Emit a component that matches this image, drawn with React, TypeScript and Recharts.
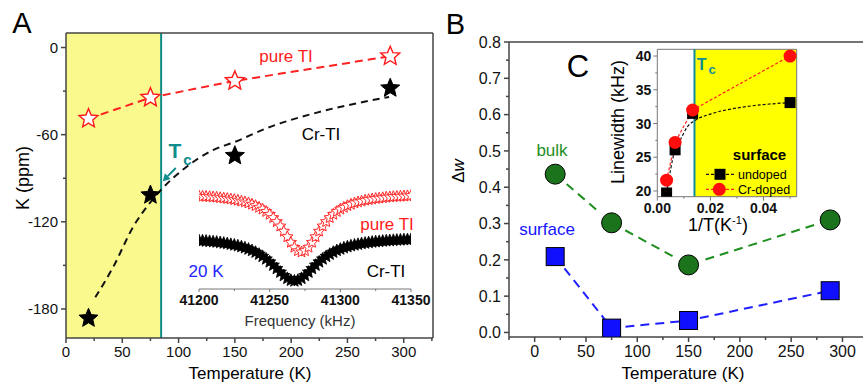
import React from 'react';
import { ComposedChart, XAxis, YAxis, Line, Scatter, ReferenceArea, ReferenceLine } from 'recharts';

// ---------- Panel A : Knight shift vs temperature ----------
const tempsA = [20, 75, 150, 288];
const kPureTI = [-49, -34.5, -23, -6];
const kCrTI = [-186.4, -101.6, -74.5, -28];
const crFitTemps = [26, 42, 60, 74.5, 85, 104, 131, 150, 178, 222, 267, 287];
const crFitK = [-172, -151, -123, -107, -97.5, -84, -70.5, -65, -55.6, -45, -37, -34];
const tcA = 84.5;
const kTicks = [0, -60, -120, -180];
const kMinorTicks = [-30, -90, -150];
const tempTicksA = [0, 50, 100, 150, 200, 250, 300];
const tempMinorTicksA = [25, 75, 125, 175, 225, 275, 325];
const tcArrowFrom = { x: 97.5, y: -83 };
const tcArrowTo = { x: 86, y: -92 };

// ---------- Inset of A : 20 K spectra ----------
const freqs = [41200, 41202.5, 41205, 41207.5, 41210, 41212.5, 41215, 41217.5, 41220, 41222.5, 41225, 41227.5, 41230, 41232.5, 41235, 41237.5, 41240, 41242.5, 41245, 41247.5, 41250, 41252.5, 41255, 41257.5, 41260, 41262.5, 41265, 41267.5, 41270, 41272.5, 41275, 41277.5, 41280, 41282.5, 41285, 41287.5, 41290, 41292.5, 41295, 41297.5, 41300, 41302.5, 41305, 41307.5, 41310, 41312.5, 41315, 41317.5, 41320, 41322.5, 41325, 41327.5, 41330, 41332.5, 41335, 41337.5, 41340, 41342.5, 41345, 41347.5, 41350];
const specPureTI = [92.9, 92.7, 92.5, 92.3, 92.0, 91.7, 91.2, 90.8, 90.4, 89.9, 89.3, 88.7, 87.8, 87.0, 86.0, 84.7, 83.3, 81.6, 79.8, 77.4, 74.6, 71.3, 67.3, 62.9, 57.7, 52.2, 46.6, 41.7, 38.2, 37.0, 38.2, 41.7, 46.6, 52.2, 57.7, 62.9, 67.3, 71.3, 74.6, 77.4, 79.8, 81.6, 83.3, 84.7, 86.0, 87.0, 87.8, 88.7, 89.3, 89.9, 90.4, 90.8, 91.2, 91.7, 92.0, 92.3, 92.5, 92.7, 92.9, 93.1, 93.3];
const specCrTI = [48.4, 48.2, 47.9, 47.6, 47.3, 46.9, 46.4, 45.9, 45.4, 44.7, 44.0, 43.2, 42.3, 41.2, 39.9, 38.5, 36.8, 34.8, 32.6, 30.0, 27.1, 23.8, 20.4, 16.8, 13.4, 10.6, 8.7, 8.0, 8.7, 10.6, 13.4, 16.8, 20.4, 23.8, 27.1, 30.0, 32.6, 34.8, 36.8, 38.5, 39.9, 41.2, 42.3, 43.2, 44.0, 44.7, 45.4, 45.9, 46.4, 46.9, 47.3, 47.6, 47.9, 48.2, 48.4, 48.7, 48.9, 49.1, 49.3, 49.4, 49.6];
const freqTicks = [41200, 41250, 41300, 41350];
const freqMinorTicks = [41225, 41275, 41325];

// ---------- Panel B : delta w vs temperature ----------
const tempsB = [20, 75, 150, 288];
const dwBulk = [0.436, 0.302, 0.186, 0.31];
const dwSurface = [0.209, 0.012, 0.033, 0.115];
const dwTicks = [0, 0.1, 0.2, 0.3, 0.4, 0.5, 0.6, 0.7, 0.8];
const dwMinorTicks = [0.05, 0.15, 0.25, 0.35, 0.45, 0.55, 0.65, 0.75];
const tempTicksB = [0, 50, 100, 150, 200, 250, 300];
const tempMinorTicksB = [-25, 25, 75, 125, 175, 225, 275];

// ---------- Inset C : linewidth vs 1/T ----------
const invT = [0.0035, 0.0067, 0.0133, 0.05];
const lwUndoped = [19.7, 26.1, 31.5, 33.1];
const lwCrDoped = [21.6, 27.2, 32.0, 40.0];
const undopedFitInvT = [0.0035, 0.0067, 0.0087, 0.0113, 0.014, 0.02, 0.03, 0.04, 0.05];
const undopedFitLw = [19.7, 26.1, 27.6, 29.5, 30.4, 31.4, 32.3, 32.8, 33.1];
const tcInvT = 0.014;
const lwTicks = [20, 25, 30, 35, 40];
const lwMinorTicks = [22.5, 27.5, 32.5, 37.5];
const invTTicks = [0, 0.02, 0.04];
const invTMinorTicks = [0.01, 0.03, 0.05];

const zip = (xs: number[], ys: number[]) => xs.map((x, i) => ({ x, y: ys[i] }));

const FONT = '"Liberation Sans", Arial, Helvetica, sans-serif';
const AXIS = '#444';
const TEAL = '#0f8c8c';

function starPath(cx: number, cy: number, R: number, r: number) {
  let d = '';
  for (let i = 0; i < 10; i++) {
    const rad = i % 2 === 0 ? R : r;
    const a = -Math.PI / 2 + (i * Math.PI) / 5;
    d += (i ? 'L' : 'M') + (cx + rad * Math.cos(a)).toFixed(2) + ',' + (cy + rad * Math.sin(a)).toFixed(2);
  }
  return d + 'Z';
}

const starShape = (R: number, ratio: number, fill: string, stroke: string, sw: number) => (p: any) =>
  <path d={starPath(p.cx, p.cy, R, R * ratio)} fill={fill} stroke={stroke} strokeWidth={sw} strokeLinejoin="miter" />;

const arrowShape = (color: string) => (p: any) => {
  const { x1, y1, x2, y2 } = p;
  const ang = Math.atan2(y2 - y1, x2 - x1);
  const L = 7, Wd = 4;
  const bx = x2 - L * Math.cos(ang), by = y2 - L * Math.sin(ang);
  const px = -Math.sin(ang) * Wd, py = Math.cos(ang) * Wd;
  return (
    <g>
      <line x1={x1} y1={y1} x2={bx} y2={by} stroke={color} strokeWidth={2} />
      <polygon points={`${x2},${y2} ${bx + px},${by + py} ${bx - px},${by - py}`} fill={color} />
    </g>
  );
};

type TickOpts = { majors: number[]; fmt?: (v: number) => string; size: number; bold?: boolean; major: number; minor: number; stroke: string; sw: number; gap: number };

const xTick = (o: TickOpts) => (props: any) => {
  const { x, y, payload } = props;
  const v = payload.value;
  const isMajor = o.majors.some((m) => Math.abs(m - v) < 1e-9);
  const len = isMajor ? o.major : o.minor;
  return (
    <g>
      <line x1={x} y1={y} x2={x} y2={y + len} stroke={o.stroke} strokeWidth={o.sw} />
      {isMajor && (
        <text x={x} y={y + o.major + o.gap} dy="0.75em" textAnchor="middle" fontSize={o.size} fill="#111" fontWeight={o.bold ? 'bold' : 'normal'}>
          {o.fmt ? o.fmt(v) : String(v)}
        </text>
      )}
    </g>
  );
};

const yTick = (o: TickOpts) => (props: any) => {
  const { x, y, payload } = props;
  const v = payload.value;
  const isMajor = o.majors.some((m) => Math.abs(m - v) < 1e-9);
  const len = isMajor ? o.major : o.minor;
  return (
    <g>
      <line x1={x} y1={y} x2={x - len} y2={y} stroke={o.stroke} strokeWidth={o.sw} />
      {isMajor && (
        <text x={x - o.major - o.gap} y={y} dy="0.36em" textAnchor="end" fontSize={o.size} fill="#111" fontWeight={o.bold ? 'bold' : 'normal'}>
          {o.fmt ? o.fmt(v) : String(v)}
        </text>
      )}
    </g>
  );
};

const Txt = (props: any) => {
  const { x, y, size, color = '#000', bold, rotate = 0, left, children } = props;
  return (
    <div style={{
      position: 'absolute', left: x, top: y, fontSize: size, color, lineHeight: 1, whiteSpace: 'nowrap',
      fontWeight: bold ? 'bold' : 'normal',
      transform: `translate(${left ? '0' : '-50%'},-50%) rotate(${rotate}deg)`,
    }}>{children}</div>
  );
};

function PanelA() {
  return (
    <div style={{ position: 'absolute', left: 0, top: 0 }}>
      <ComposedChart width={440} height={383} margin={{ top: 33, right: 7, bottom: 15, left: 6 }}>
        <XAxis type="number" dataKey="x" domain={[0, 326]} ticks={[...tempTicksA, ...tempMinorTicksA]} interval={0} height={30}
          tickSize={0} tickMargin={0} tickLine={false} stroke={AXIS} strokeWidth={1.5} allowDataOverflow
          tick={xTick({ majors: tempTicksA, size: 15, major: 5, minor: 3, stroke: AXIS, sw: 1.5, gap: 3 })} />
        <YAxis type="number" dataKey="y" domain={[-200, 10]} ticks={[...kTicks, ...kMinorTicks]} interval={0} width={60}
          tickSize={0} tickMargin={0} tickLine={false} stroke={AXIS} strokeWidth={1.5} allowDataOverflow
          tick={yTick({ majors: kTicks, size: 15, major: 5, minor: 3, stroke: AXIS, sw: 1.5, gap: 3 })} />
        <ReferenceArea x1={0} x2={tcA} fill="#f9f98e" fillOpacity={1} stroke="none" />
        <ReferenceLine x={tcA} stroke={TEAL} strokeWidth={2} />
        <ReferenceLine y={10} stroke={AXIS} strokeWidth={1.5} />
        <ReferenceLine x={326} stroke={AXIS} strokeWidth={1.5} />
        <ReferenceLine segment={[tcArrowFrom, tcArrowTo]} shape={arrowShape(TEAL)} />
        <Line data={zip(tempsA, kPureTI)} dataKey="y" type="linear" stroke="#ff2020" strokeWidth={2}
          strokeDasharray="8 5" dot={false} activeDot={false} isAnimationActive={false} />
        <Line data={zip(crFitTemps, crFitK)} dataKey="y" type="monotone" stroke="#111" strokeWidth={2}
          strokeDasharray="7 5" dot={false} activeDot={false} isAnimationActive={false} />
        <Scatter data={zip(tempsA, kPureTI)} shape={starShape(10, 0.45, '#fff', '#ff1a1a', 1.4)} isAnimationActive={false} />
        <Scatter data={zip(tempsA, kCrTI)} shape={starShape(10, 0.45, '#000', '#000', 1)} isAnimationActive={false} />
      </ComposedChart>
    </div>
  );
}

function InsetA() {
  return (
    <div style={{ position: 'absolute', left: 0, top: 0 }}>
      <ComposedChart width={440} height={383} margin={{ top: 180, right: 29, bottom: 64, left: 199 }}>
        <XAxis type="number" dataKey="x" domain={[41200, 41350]} ticks={[...freqTicks, ...freqMinorTicks]} interval={0} height={30}
          tickSize={0} tickMargin={0} tickLine={false} stroke="#777" strokeWidth={1} allowDataOverflow
          tick={xTick({ majors: freqTicks, size: 14, bold: true, major: 3, minor: 2, stroke: '#777', sw: 1, gap: 2 })} />
        <YAxis type="number" dataKey="y" domain={[0, 109]} hide />
        <Scatter data={zip(freqs, specPureTI)} shape={starShape(6, 0.45, '#fff', '#ff2a2a', 1)} isAnimationActive={false} />
        <Scatter data={zip(freqs, specCrTI)} shape={starShape(6.5, 0.45, '#000', '#000', 0.8)} isAnimationActive={false} />
        <Line data={zip(freqs, specPureTI)} dataKey="y" type="monotone" stroke="#2323ff" strokeWidth={2}
          strokeDasharray="5 5" dot={false} activeDot={false} isAnimationActive={false} />
        <Line data={zip(freqs, specCrTI)} dataKey="y" type="monotone" stroke="#e8e81a" strokeWidth={2}
          strokeDasharray="6 5" dot={false} activeDot={false} isAnimationActive={false} />
      </ComposedChart>
    </div>
  );
}

const circleShape = (p: any) => (
  <g>
    <circle cx={p.cx} cy={p.cy} r={15} fill="#fff" />
    <circle cx={p.cx} cy={p.cy} r={10} fill="#1b741b" stroke="#000" strokeWidth={1} />
  </g>
);
const squareShape = (p: any) => (
  <rect x={p.cx - 9} y={p.cy - 9} width={18} height={18} fill="#1010ff" stroke="#000" strokeWidth={1} />
);

function PanelB() {
  return (
    <div style={{ position: 'absolute', left: 430, top: 0 }}>
      <ComposedChart width={433} height={383} margin={{ top: 42, right: 0, bottom: 16, left: 19 }}>
        <XAxis type="number" dataKey="x" domain={[-25, 320]} ticks={[...tempTicksB, ...tempMinorTicksB]} interval={0} height={30}
          tickSize={0} tickMargin={0} tickLine={false} stroke={AXIS} strokeWidth={1.5} allowDataOverflow
          tick={xTick({ majors: tempTicksB, size: 16, major: 5, minor: 3, stroke: AXIS, sw: 1.5, gap: 3 })} />
        <YAxis type="number" dataKey="y" domain={[-0.0125, 0.8]} ticks={[...dwTicks, ...dwMinorTicks]} interval={0} width={60}
          tickSize={0} tickMargin={0} tickLine={false} stroke={AXIS} strokeWidth={1.5} allowDataOverflow
          tick={yTick({ majors: dwTicks, fmt: (v) => v.toFixed(1), size: 16, major: 5, minor: 3, stroke: AXIS, sw: 1.5, gap: 3 })} />
        <ReferenceLine y={0.8} stroke={AXIS} strokeWidth={1.5} />
        <Line data={zip(tempsB, dwBulk)} dataKey="y" type="linear" stroke="#1f8f1f" strokeWidth={2}
          strokeDasharray="9 6" dot={false} activeDot={false} isAnimationActive={false} />
        <Line data={zip(tempsB, dwSurface)} dataKey="y" type="linear" stroke="#2020ff" strokeWidth={2}
          strokeDasharray="9 6" dot={false} activeDot={false} isAnimationActive={false} />
        <Scatter data={zip(tempsB, dwBulk)} shape={circleShape} isAnimationActive={false} />
        <Scatter data={zip(tempsB, dwSurface)} shape={squareShape} isAnimationActive={false} />
      </ComposedChart>
    </div>
  );
}

const redDot = (p: any) => <circle cx={p.cx} cy={p.cy} r={6.5} fill="#ff0d0d" />;
const blackSquare = (p: any) => <rect x={p.cx - 5.5} y={p.cy - 5.5} width={11} height={11} fill="#000" />;

function InsetC() {
  return (
    <div style={{ position: 'absolute', left: 600, top: 0 }}>
      <ComposedChart width={263} height={383} margin={{ top: 49.3, right: 66.3, bottom: 166.3, left: 17.3 }}>
        <XAxis type="number" dataKey="x" domain={[0, 0.0525]} ticks={[...invTTicks, ...invTMinorTicks]} interval={0} height={20}
          tickSize={0} tickMargin={0} tickLine={false} stroke="#777" strokeWidth={1} allowDataOverflow
          tick={xTick({ majors: invTTicks, fmt: (v) => v.toFixed(2), size: 14, bold: true, major: 4, minor: 2, stroke: '#777', sw: 1, gap: 2 })} />
        <YAxis type="number" dataKey="y" domain={[19.15, 41]} ticks={[...lwTicks, ...lwMinorTicks]} interval={0} width={40}
          tickSize={0} tickMargin={0} tickLine={false} stroke="#777" strokeWidth={1} allowDataOverflow
          tick={yTick({ majors: lwTicks, size: 14, bold: true, major: 4, minor: 2, stroke: '#777', sw: 1, gap: 2 })} />
        <ReferenceArea x1={0} x2={tcInvT} fill="#fff" fillOpacity={1} stroke="none" />
        <ReferenceArea x1={tcInvT} x2={0.0525} fill="#ffff00" fillOpacity={1} stroke="none" />
        <ReferenceLine y={41} stroke="#777" strokeWidth={1} />
        <ReferenceLine x={0.0525} stroke="#777" strokeWidth={1} />
        <ReferenceLine x={tcInvT} stroke="#0f8c98" strokeWidth={2} />
        <Line data={zip(undopedFitInvT, undopedFitLw)} dataKey="y" type="monotone" stroke="#111" strokeWidth={1.2}
          strokeDasharray="3 2" dot={false} activeDot={false} isAnimationActive={false} />
        <Line data={zip(invT, lwCrDoped)} dataKey="y" type="linear" stroke="#ff2020" strokeWidth={1.2}
          strokeDasharray="3 2" dot={false} activeDot={false} isAnimationActive={false} />
        <Scatter data={zip(invT, lwUndoped)} shape={blackSquare} isAnimationActive={false} />
        <Scatter data={zip(invT, lwCrDoped)} shape={redDot} isAnimationActive={false} />
      </ComposedChart>
    </div>
  );
}

export default function App() {
  return (
    <div style={{ position: 'absolute', left: 0, top: 0, width: 863, height: 383, background: '#fff', fontFamily: FONT, overflow: 'hidden' }}>
      <PanelA />
      <InsetA />
      <PanelB />
      <InsetC />

      {/* Panel A texts */}
      <Txt x={22} y={22.5} size={29}>A</Txt>
      <Txt x={23} y={178} size={18} rotate={-90}>K (ppm)</Txt>
      <Txt x={250} y={373} size={17}>Temperature (K)</Txt>
      <Txt x={286} y={56} size={17} color="#ff1a1a">pure TI</Txt>
      <Txt x={321} y={134} size={17}>Cr-TI</Txt>
      <Txt x={175} y={150} size={21} bold color={TEAL}>T</Txt>
      <Txt x={187.5} y={159} size={15} bold color={TEAL}>c</Txt>
      <Txt x={387} y={224} size={17} color="#ff1a1a">pure TI</Txt>
      <Txt x={206} y={271} size={17} color="#2323ff">20 K</Txt>
      <Txt x={386} y={271} size={17}>Cr-TI</Txt>
      <Txt x={300} y={320} size={15} color="#333">Frequency (kHz)</Txt>

      {/* Panel B texts */}
      <Txt x={455.5} y={24} size={29}>B</Txt>
      <Txt x={578} y={66} size={31}>C</Txt>
      <Txt x={458} y={171} size={17} rotate={-90}>Δ<i>w</i></Txt>
      <Txt x={552} y={150} size={17} color="#1f8f1f">bulk</Txt>
      <Txt x={547} y={229} size={17} color="#1515ff">surface</Txt>
      <Txt x={683} y={373} size={17}>Temperature (K)</Txt>

      {/* Inset C texts */}
      <Txt x={617.5} y={122} size={18} rotate={-90}>Linewidth (kHz)</Txt>
      <Txt x={718} y={225} size={18}>1/T(K<span style={{ fontSize: 11, position: 'relative', top: -7 }}>-1</span>)</Txt>
      <Txt x={701.7} y={64.5} size={16} bold color="#0f8c98">T</Txt>
      <Txt x={712} y={69} size={13} bold color="#0f8c98">c</Txt>
      <Txt x={759.5} y={154} size={15} bold>surface</Txt>
      <Txt x={738} y={175} size={12.5} left>undoped</Txt>
      <Txt x={738} y={189.5} size={12.5} left>Cr-doped</Txt>
      <svg style={{ position: 'absolute', left: 700, top: 165 }} width={36} height={32}>
        <line x1={6} y1={9.3} x2={34} y2={9.3} stroke="#111" strokeWidth={1.2} strokeDasharray="3 2" />
        <rect x={14.5} y={3.8} width={11} height={11} fill="#000" />
        <line x1={6} y1={24.3} x2={34} y2={24.3} stroke="#ff2020" strokeWidth={1.2} strokeDasharray="3 2" />
        <circle cx={19.3} cy={24.3} r={6.5} fill="#ff0d0d" />
      </svg>
    </div>
  );
}
